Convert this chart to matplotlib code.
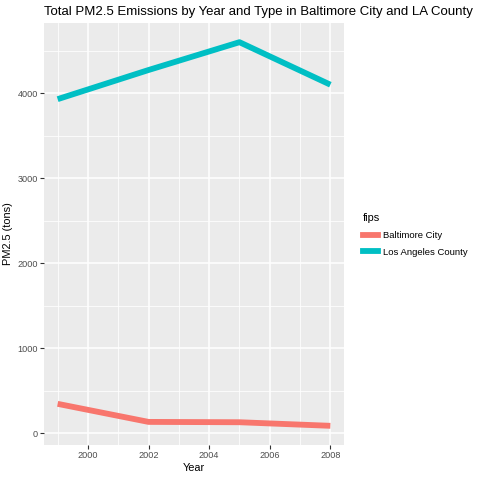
import matplotlib.pyplot as plt
from matplotlib.lines import Line2D

plt.rcParams['font.family'] = ['Liberation Sans', 'DejaVu Sans']

years = [1999, 2002, 2005, 2008]
baltimore = [346.82, 134.31, 130.43, 88.28]
los_angeles = [3931.12, 4274.03, 4601.41, 4101.32]
series_names = ['Baltimore City', 'Los Angeles County']
series_colors = ['#F8766D', '#00BFC4']

fig = plt.figure(figsize=(4.8, 4.8), dpi=100)
ax = fig.add_axes([44 / 480, 35 / 480, 300 / 480, 422 / 480])
ax.set_facecolor('#EBEBEB')

for vals, name, col in zip([baltimore, los_angeles], series_names, series_colors):
    ax.plot(years, vals, color=col, linewidth=4.2, solid_capstyle='butt', label=name)

lo = min(baltimore + los_angeles)
hi = max(baltimore + los_angeles)
pad = (hi - lo) * 0.05
ax.set_ylim(lo - pad, hi + pad)
ax.set_xlim(1999 - 0.45, 2008 + 0.45)

ax.set_xticks([2000, 2002, 2004, 2006, 2008])
ax.set_xticks([1999, 2001, 2003, 2005, 2007], minor=True)
ax.set_yticks([0, 1000, 2000, 3000, 4000])
ax.set_yticks([500, 1500, 2500, 3500, 4500], minor=True)
ax.grid(which='major', color='white', linewidth=1.1)
ax.grid(which='minor', color='white', linewidth=0.55)
ax.set_axisbelow(True)
for s in ax.spines.values():
    s.set_visible(False)
ax.tick_params(which='major', length=2.7, width=0.8, color='#333333',
               labelsize=6.6, labelcolor='#4D4D4D', pad=1.5)
ax.tick_params(which='minor', length=0)

ax.set_xlabel('Year', fontsize=7.9, labelpad=2)
ax.set_ylabel('PM2.5 (tons)', fontsize=7.9, labelpad=3)
ax.set_title('Total PM2.5 Emissions by Year and Type in Baltimore City and LA County',
             fontsize=9.5, loc='left', pad=6)

handles = [Line2D([0], [0], color=c, linewidth=4.2) for c in series_colors]
leg = fig.legend(handles, series_names, title='fips', loc='upper left',
                 bbox_to_anchor=(354 / 480, 1 - 205 / 480), frameon=False,
                 fontsize=6.8, title_fontsize=7.9, handlelength=1.6,
                 handletextpad=0.6, labelspacing=0.8, alignment='left')

fig.savefig('out.png', dpi=100)
